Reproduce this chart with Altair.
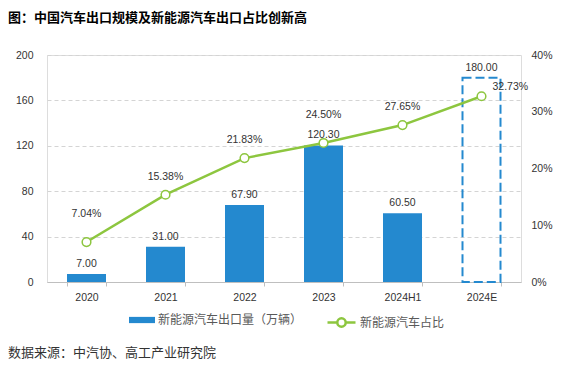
import altair as alt
import pandas as pd

categories = ["2020", "2021", "2022", "2023", "2024H1", "2024E"]
export_volume = [7.00, 31.00, 67.90, 120.30, 60.50, 180.00]
nev_share = [7.04, 15.38, 21.83, 24.50, 27.65, 32.73]
bar_series = "新能源汽车出口量（万辆）"
line_series = "新能源汽车占比"
title_text = "图：中国汽车出口规模及新能源汽车出口占比创新高"
source_text = "数据来源：中汽协、高工产业研究院"
left_ticks = [0, 40, 80, 120, 160, 200]
right_ticks = [0, 0.1, 0.2, 0.3, 0.4]

BLUE = "#2489cf"
GREEN = "#8dc63f"
NUM_FONT = "Liberation Sans"
CJK_FONT = "Noto Sans CJK SC"

df = pd.DataFrame({
    "cat": categories,
    "vol": export_volume,
    "share": [v / 100 for v in nev_share],
    "vol_label": [f"{v:.2f}" for v in export_volume],
    "share_label": [f"{v:.2f}%" for v in nev_share],
    "bs": bar_series,
    "ls": line_series,
})

base = alt.Chart(df)

x_enc = alt.X(
    "cat:N",
    sort=categories,
    scale=alt.Scale(domain=categories, paddingInner=0.5, paddingOuter=0.25),
    axis=alt.Axis(
        title=None, labelAngle=0, labelFont=NUM_FONT, labelFontSize=10.5,
        labelColor="#333333", domainColor="#bfbfbf", domainWidth=1.2,
        tickColor="#bfbfbf", tickBand="extent", tickSize=4, labelPadding=6,
        grid=False,
    ),
)

y_left = alt.Y(
    "vol:Q",
    scale=alt.Scale(domain=[0, 200], nice=False),
    axis=alt.Axis(
        title=None, values=left_ticks, labelFont=NUM_FONT, labelFontSize=10.5,
        labelColor="#333333", domain=False, domainOpacity=0, ticks=False,
        labelPadding=14, grid=True, gridColor="#d4d4d4", gridDash=[4, 3], gridWidth=1,
    ),
)

bars = base.transform_filter(alt.datum.cat != "2024E").mark_bar(size=39).encode(
    x=x_enc,
    y=y_left,
    color=alt.Color(
        "bs:N",
        scale=alt.Scale(domain=[bar_series], range=[BLUE]),
        legend=alt.Legend(
            title=None, orient="none", legendX=82, legendY=252, padding=0,
            symbolType="M-1,-0.24H1V0.24H-1Z", symbolSize=676, symbolStrokeWidth=0,
            labelFont=CJK_FONT, labelFontSize=12, labelColor="#595959", labelOffset=3,
        ),
    ),
)

dashed_bar = base.transform_filter(alt.datum.cat == "2024E").mark_bar(
    size=38, filled=False, stroke=BLUE, strokeWidth=2, strokeDash=[9, 4]
).encode(x=x_enc, y=y_left)

bar_labels = base.mark_text(
    baseline="bottom", dy=-5, font=NUM_FONT, fontSize=10.5, color="#333333"
).encode(x=x_enc, y=y_left, text="vol_label:N")

left = alt.layer(bars, dashed_bar, bar_labels)

y_right = alt.Y(
    "share:Q",
    scale=alt.Scale(domain=[0, 0.4], nice=False),
    axis=alt.Axis(
        title=None, orient="right", values=right_ticks, format=".0%",
        labelFont=NUM_FONT, labelFontSize=10.5, labelColor="#333333",
        domain=False, domainOpacity=0, ticks=False, labelPadding=10, grid=False,
    ),
)

line = base.mark_line(
    strokeWidth=2.5,
    point=alt.OverlayMarkDef(filled=True, fill="white", size=75, strokeWidth=1.5),
).encode(
    x=x_enc,
    y=y_right,
    stroke=alt.Stroke(
        "ls:N",
        scale=alt.Scale(domain=[line_series], range=[GREEN]),
        legend=alt.Legend(
            title=None, orient="none", legendX=279, legendY=252, padding=0,
            symbolType="M-1,0H-0.3M0.3,0H1M-0.3,0A0.3,0.3 0 1,1 0.3,0A0.3,0.3 0 1,1 -0.3,0Z",
            symbolSize=784, symbolStrokeWidth=2.5, symbolFillColor="white",
            labelFont=CJK_FONT, labelFontSize=12, labelColor="#595959", labelOffset=3,
        ),
    ),
)

txt_kw = dict(font=NUM_FONT, fontSize=10.5, color="#333333")
share_labels_normal = base.transform_filter(
    "datum.cat == '2021' || datum.cat == '2022' || datum.cat == '2024H1'"
).mark_text(baseline="bottom", dy=-13, **txt_kw).encode(
    x=x_enc, y=y_right, text="share_label:N")
share_labels_high = base.transform_filter(
    "datum.cat == '2020' || datum.cat == '2023'"
).mark_text(baseline="bottom", dy=-23, **txt_kw).encode(
    x=x_enc, y=y_right, text="share_label:N")
share_label_last = base.transform_filter("datum.cat == '2024E'").mark_text(
    align="left", baseline="middle", dx=11, dy=-9, **txt_kw
).encode(x=x_enc, y=y_right, text="share_label:N")

right = alt.layer(line, share_labels_normal, share_labels_high, share_label_last)

source = alt.Chart(pd.DataFrame({"t": [source_text]})).mark_text(
    align="left", baseline="middle", font=CJK_FONT, fontSize=13, color="#333333"
).encode(text="t:N", x=alt.value(-39), y=alt.value(298))

chart = alt.layer(left, right, source).resolve_scale(
    y="independent", color="independent", stroke="independent"
).properties(
    width=474,
    height=227,
    autosize=alt.AutoSizeParams(type="none"),
    padding={"left": 39, "top": 47, "right": 34, "bottom": 86},
    title=alt.Title(
        title_text, anchor="start", frame="group", dx=-39, offset=25,
        font=CJK_FONT, fontSize=13, fontWeight="bold", color="#000000",
    ),
).configure_view(stroke=None, strokeWidth=0, strokeOpacity=0).configure_axisY(
    domain=False, domainOpacity=0, ticks=False
).configure(background="white")

chart.save("out.html", embed_options={"renderer": "svg", "actions": False})
